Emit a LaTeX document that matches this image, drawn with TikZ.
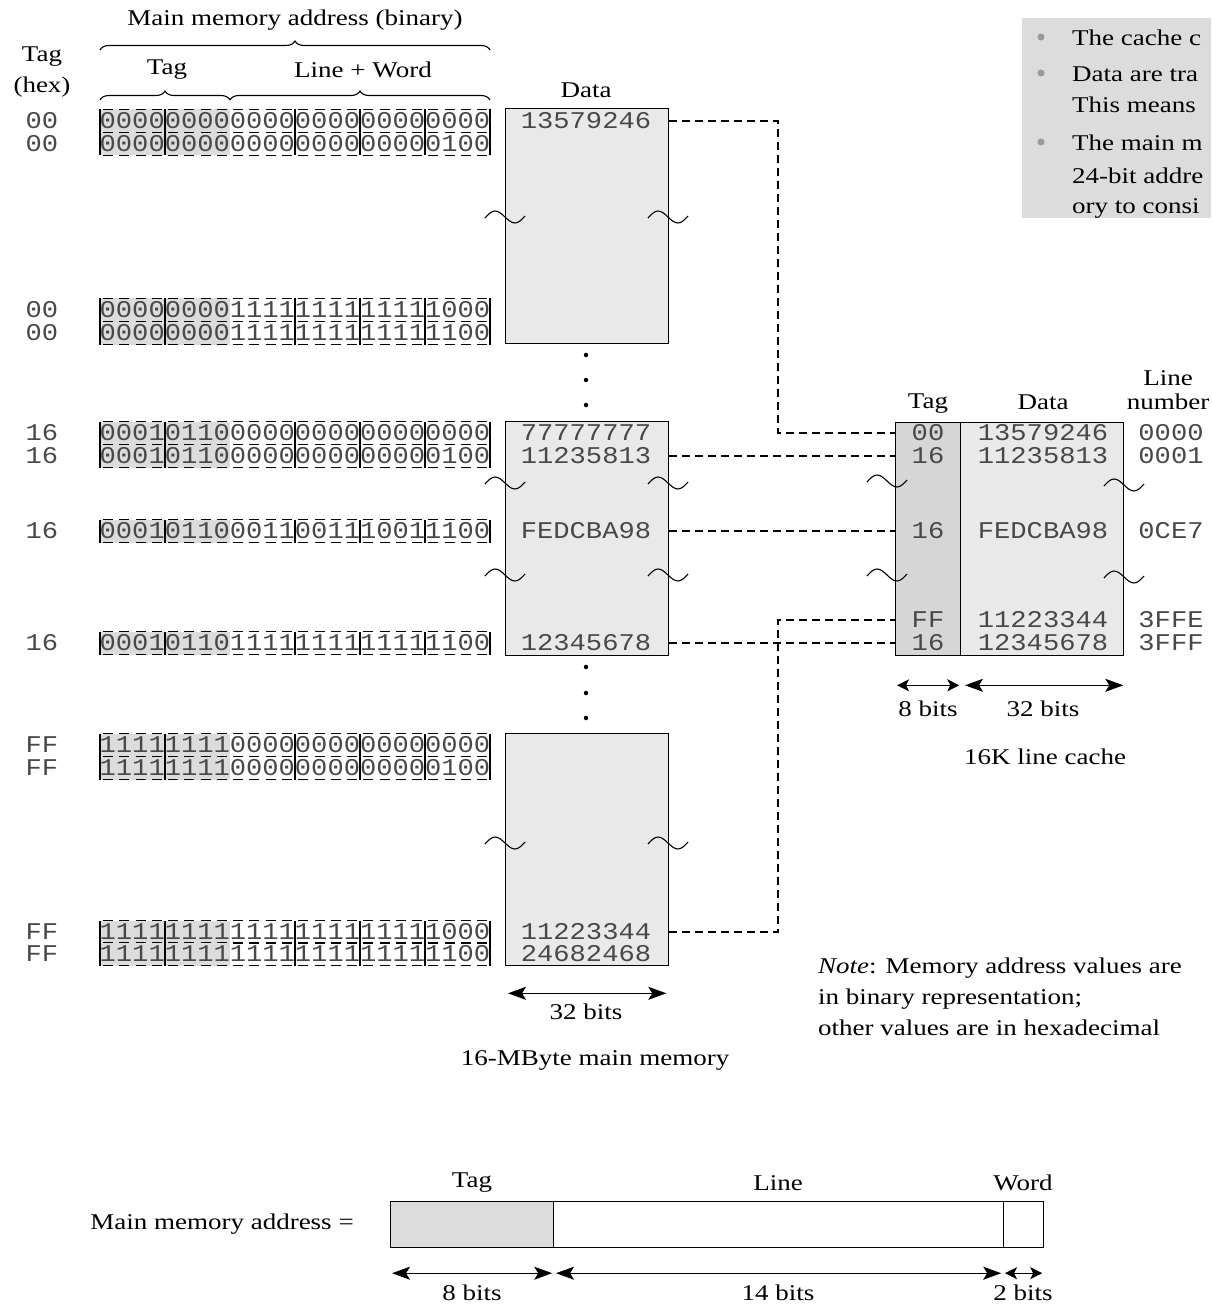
\documentclass[tikz,border=0pt]{standalone}
\usepackage{fontspec}
\setmainfont[FakeStretch=1.2]{Liberation Serif}
\setmonofont[FakeStretch=1.13]{Liberation Mono}
\usetikzlibrary{arrows.meta,decorations.pathreplacing}
\definecolor{memfill}{HTML}{E9E9E9}
\definecolor{tagfill}{HTML}{D6D6D6}
\definecolor{tagshade}{HTML}{DCDCDC}
\definecolor{boxgray}{HTML}{DCDCDC}
\definecolor{monotext}{HTML}{484848}
\tikzset{
  lbl/.style={font=\fontsize{22.5}{27}\selectfont, inner sep=0pt},
  mono/.style={font=\fontsize{24}{26}\selectfont\ttfamily, text=monotext, inner sep=0pt},
  membox/.style={draw, line width=1.3pt, fill=memfill, minimum width=163pt, inner sep=0pt, anchor=north west},
  bitdash/.style={line width=1.1pt, dash pattern=on 10pt off 6.27pt, dash phase=-3pt},
  bittick/.style={line width=1.1pt},
  bighead/.tip={Stealth[length=18pt, width=13pt, inset=4pt]},
  smallhead/.tip={Stealth[length=12pt, width=12pt, inset=3pt]},
  dim/.style={bighead-bighead, line width=1.4pt},
  dimsmall/.style={smallhead-smallhead, line width=1.4pt},
  conn/.style={line width=1.2pt, dash pattern=on 8pt off 5pt},
  tildestyle/.style={line width=1.1pt},
  dotnode/.style={circle, fill, inner sep=0pt, minimum size=4.5pt},
  brc/.style={decorate, decoration={brace, amplitude=9pt}, line width=1.1pt}
}
\newcommand{\addrrow}[4]{%
  \fill[tagshade] (100,#2-11.5) rectangle (230,#2+11.5);
  \node[mono] (#1h) at (42,#2) {#3};
  \node[mono] (#1b) at (295,#2) {#4};
  \draw[bitdash] (100,#2-11.5) -- (490,#2-11.5);
  \draw[bitdash] (100,#2+11.5) -- (490,#2+11.5);
  \foreach \xx in {100,165,295,360,425,490} \draw[bittick] (\xx,#2-11.5) -- (\xx,#2+11.5);
}
\newcommand{\tild}[2]{\draw[tildestyle] (#1-20,#2+1) sin (#1-10,#2-6) cos (#1,#2) sin (#1+10,#2+6) cos (#1+20,#2-1);}
\begin{document}
\begin{tikzpicture}[x=1pt,y=-1pt]
\useasboundingbox (0,0) rectangle (1211,1305);
\begin{scope}
\clip (0,0) rectangle (1211,1305);

% ---------- header labels ----------
\node[lbl] (mmab) at (295,20) {Main memory address (binary)};
\draw[brc] (100,50) -- (490,50);
\node[lbl, align=center] (taghex) at (42,72) {Tag\\[4pt](hex)};
\node[lbl] (taglbl) at (167,70) {Tag};
\node[lbl] (lwlbl) at (363,70) {Line + Word};
\draw[brc] (100,100) -- (230,100);
\draw[brc] (230,100) -- (490,100);
\node[lbl] (datalbl) at (586,90) {Data};

% ---------- memory boxes ----------
\node[membox, minimum height=235pt] (box1) at (505,108) {};
\node[membox, minimum height=234pt] (box2) at (505,421) {};
\node[membox, minimum height=232pt] (box3) at (505,733) {};

% ---------- address rows ----------
\addrrow{r1}{121}{00}{000000000000000000000000}
\addrrow{r2}{144}{00}{000000000000000000000100}
\addrrow{r3}{310}{00}{000000001111111111111000}
\addrrow{r4}{333}{00}{000000001111111111111100}
\addrrow{r5}{433}{16}{000101100000000000000000}
\addrrow{r6}{456}{16}{000101100000000000000100}
\addrrow{r7}{531}{16}{000101100011001110011100}
\addrrow{r8}{643}{16}{000101101111111111111100}
\addrrow{r9}{745}{FF}{111111110000000000000000}
\addrrow{r10}{768}{FF}{111111110000000000000100}
\addrrow{r11}{932}{FF}{111111111111111111111000}
\addrrow{r12}{954}{FF}{111111111111111111111100}

% ---------- memory data ----------
\node[mono] (m1) at (586,121) {13579246};
\node[mono] (m0) at (586,433) {77777777};
\node[mono] (m2) at (586,456) {11235813};
\node[mono] (m3) at (586,531) {FEDCBA98};
\node[mono] (m4) at (586,643) {12345678};
\node[mono] (m5) at (586,932) {11223344};
\node[mono] (m6) at (586,954) {24682468};

% tildes on memory
\tild{505}{217}\tild{668}{217}
\tild{505}{483}\tild{668}{483}
\tild{505}{575}\tild{668}{575}
\tild{505}{843}\tild{668}{843}

% dots
\node[dotnode] (d1) at (586,355) {};
\node[dotnode] (d2) at (586,380) {};
\node[dotnode] (d3) at (586,405) {};
\node[dotnode] (d4) at (586,667) {};
\node[dotnode] (d5) at (586,693) {};
\node[dotnode] (d6) at (586,718) {};

% memory dimension
\draw[dim] ([xshift=3pt,yshift=-27pt]box3.south west) -- ([xshift=-3pt,yshift=-27pt]box3.south east);
\node[lbl] (mem32) at (586,1012) {32 bits};
\node[lbl] (memcap) at (595,1060) {16-MByte main memory};

% ---------- cache ----------
\node[draw, line width=1.3pt, fill=tagfill, minimum width=65pt, minimum height=233pt, inner sep=0pt, anchor=north west] (ctag) at (895,422) {};
\node[draw, line width=1.3pt, fill=memfill, minimum width=163pt, minimum height=233pt, inner sep=0pt, anchor=north west] (cdata) at (960,422) {};
\node[lbl] (ctaglbl) at (928,404) {Tag};
\node[lbl] (cdatalbl) at (1043,402) {Data};
\node[lbl, align=center] (clnlbl) at (1168,390) {Line\\[-3pt]number};

\node[mono] (c1) at (928,433) {00};
\node[mono] (c1d) at (1043,433) {13579246};
\node[mono] (c1n) at (1171,433) {0000};
\node[mono] (c2) at (928,456) {16};
\node[mono] (c2d) at (1043,456) {11235813};
\node[mono] (c2n) at (1171,456) {0001};
\node[mono] (c3) at (928,531) {16};
\node[mono] (c3d) at (1043,531) {FEDCBA98};
\node[mono] (c3n) at (1171,531) {0CE7};
\node[mono] (c4) at (928,620) {FF};
\node[mono] (c4d) at (1043,620) {11223344};
\node[mono] (c4n) at (1171,620) {3FFE};
\node[mono] (c5) at (928,643) {16};
\node[mono] (c5d) at (1043,643) {12345678};
\node[mono] (c5n) at (1171,643) {3FFF};

\tild{887}{481}\tild{1124}{485}
\tild{887}{575}\tild{1124}{577}

\draw[dimsmall] ([xshift=2pt,yshift=-29pt]ctag.south west) -- ([xshift=-2pt,yshift=-29pt]ctag.south east);
\draw[dim] ([xshift=5pt,yshift=-29pt]cdata.south west) -- ([xshift=-1pt,yshift=-29pt]cdata.south east);
\node[lbl] (c8) at (928,709) {8 bits};
\node[lbl] (c32) at (1043,709) {32 bits};
\node[lbl] (ccap) at (1045,757) {16K line cache};

% ---------- connectors ----------
\coordinate (jx) at (778,0);
\draw[conn] (m1 -| box1.east) -- (m1 -| jx) -- (c1 -| jx) -- (c1 -| ctag.west);
\draw[conn] (m2 -| box2.east) -- (c2 -| ctag.west);
\draw[conn] (m3 -| box2.east) -- (c3 -| ctag.west);
\draw[conn] (m4 -| box2.east) -- (c5 -| ctag.west);
\draw[conn] (m5 -| box3.east) -- (m5 -| jx) -- (c4 -| jx) -- (c4 -| ctag.west);

% ---------- note ----------
\node[lbl, align=left, anchor=north west, font=\fontsize{22.5}{31}\selectfont] (note) at (818,958)
  {\textit{Note}: Memory address values are\\in binary representation;\\other values are in hexadecimal};

% ---------- info box (top right) ----------
\node[fill=boxgray, minimum width=189pt, minimum height=200pt, inner sep=0pt, anchor=north west] (infobox) at (1022,18) {};
\node[dotnode, fill=black!40, minimum size=7pt] (b1) at (1041,37) {};
\node[dotnode, fill=black!40, minimum size=7pt] (b2) at (1041,73) {};
\node[dotnode, fill=black!40, minimum size=7pt] (b3) at (1041,142) {};
\node[lbl, anchor=west] (t1) at (1072,38) {The cache c};
\node[lbl, anchor=west] (t2) at (1072,74) {Data are tra};
\node[lbl, anchor=west] (t3) at (1072,105) {This means};
\node[lbl, anchor=west] (t4) at (1072,143) {The main m};
\node[lbl, anchor=west] (t5) at (1072,176) {24-bit addre};
\node[lbl, anchor=west] (t6) at (1072,208) {ory to consi};

% ---------- bottom address format ----------
\node[lbl] (mmaeq) at (222,1224) {Main memory address =};
\node[draw, line width=1.2pt, fill=tagshade, minimum width=163pt, minimum height=46pt, inner sep=0pt, anchor=north west] (btag) at (390,1201) {};
\node[draw, line width=1.2pt, minimum width=450pt, minimum height=46pt, inner sep=0pt, anchor=north west] (bline) at (553,1201) {};
\node[draw, line width=1.2pt, minimum width=40pt, minimum height=46pt, inner sep=0pt, anchor=north west] (bword) at (1003,1201) {};
\node[lbl] (btaglbl) at (472,1183) {Tag};
\node[lbl] (blinelbl) at (778,1183) {Line};
\node[lbl] (bwordlbl) at (1023,1183) {Word};
\draw[dim] ([xshift=2pt,yshift=-25pt]btag.south west) -- ([xshift=-2pt,yshift=-25pt]btag.south east);
\draw[dim] ([xshift=3pt,yshift=-25pt]bline.south west) -- ([xshift=-3pt,yshift=-25pt]bline.south east);
\draw[dimsmall] ([xshift=2pt,yshift=-25pt]bword.south west) -- ([xshift=-2pt,yshift=-25pt]bword.south east);
\node[lbl] (b8) at (472,1293) {8 bits};
\node[lbl] (b14) at (778,1293) {14 bits};
\node[lbl] (b2b) at (1023,1293) {2 bits};
\end{scope}
\end{tikzpicture}
\end{document}
